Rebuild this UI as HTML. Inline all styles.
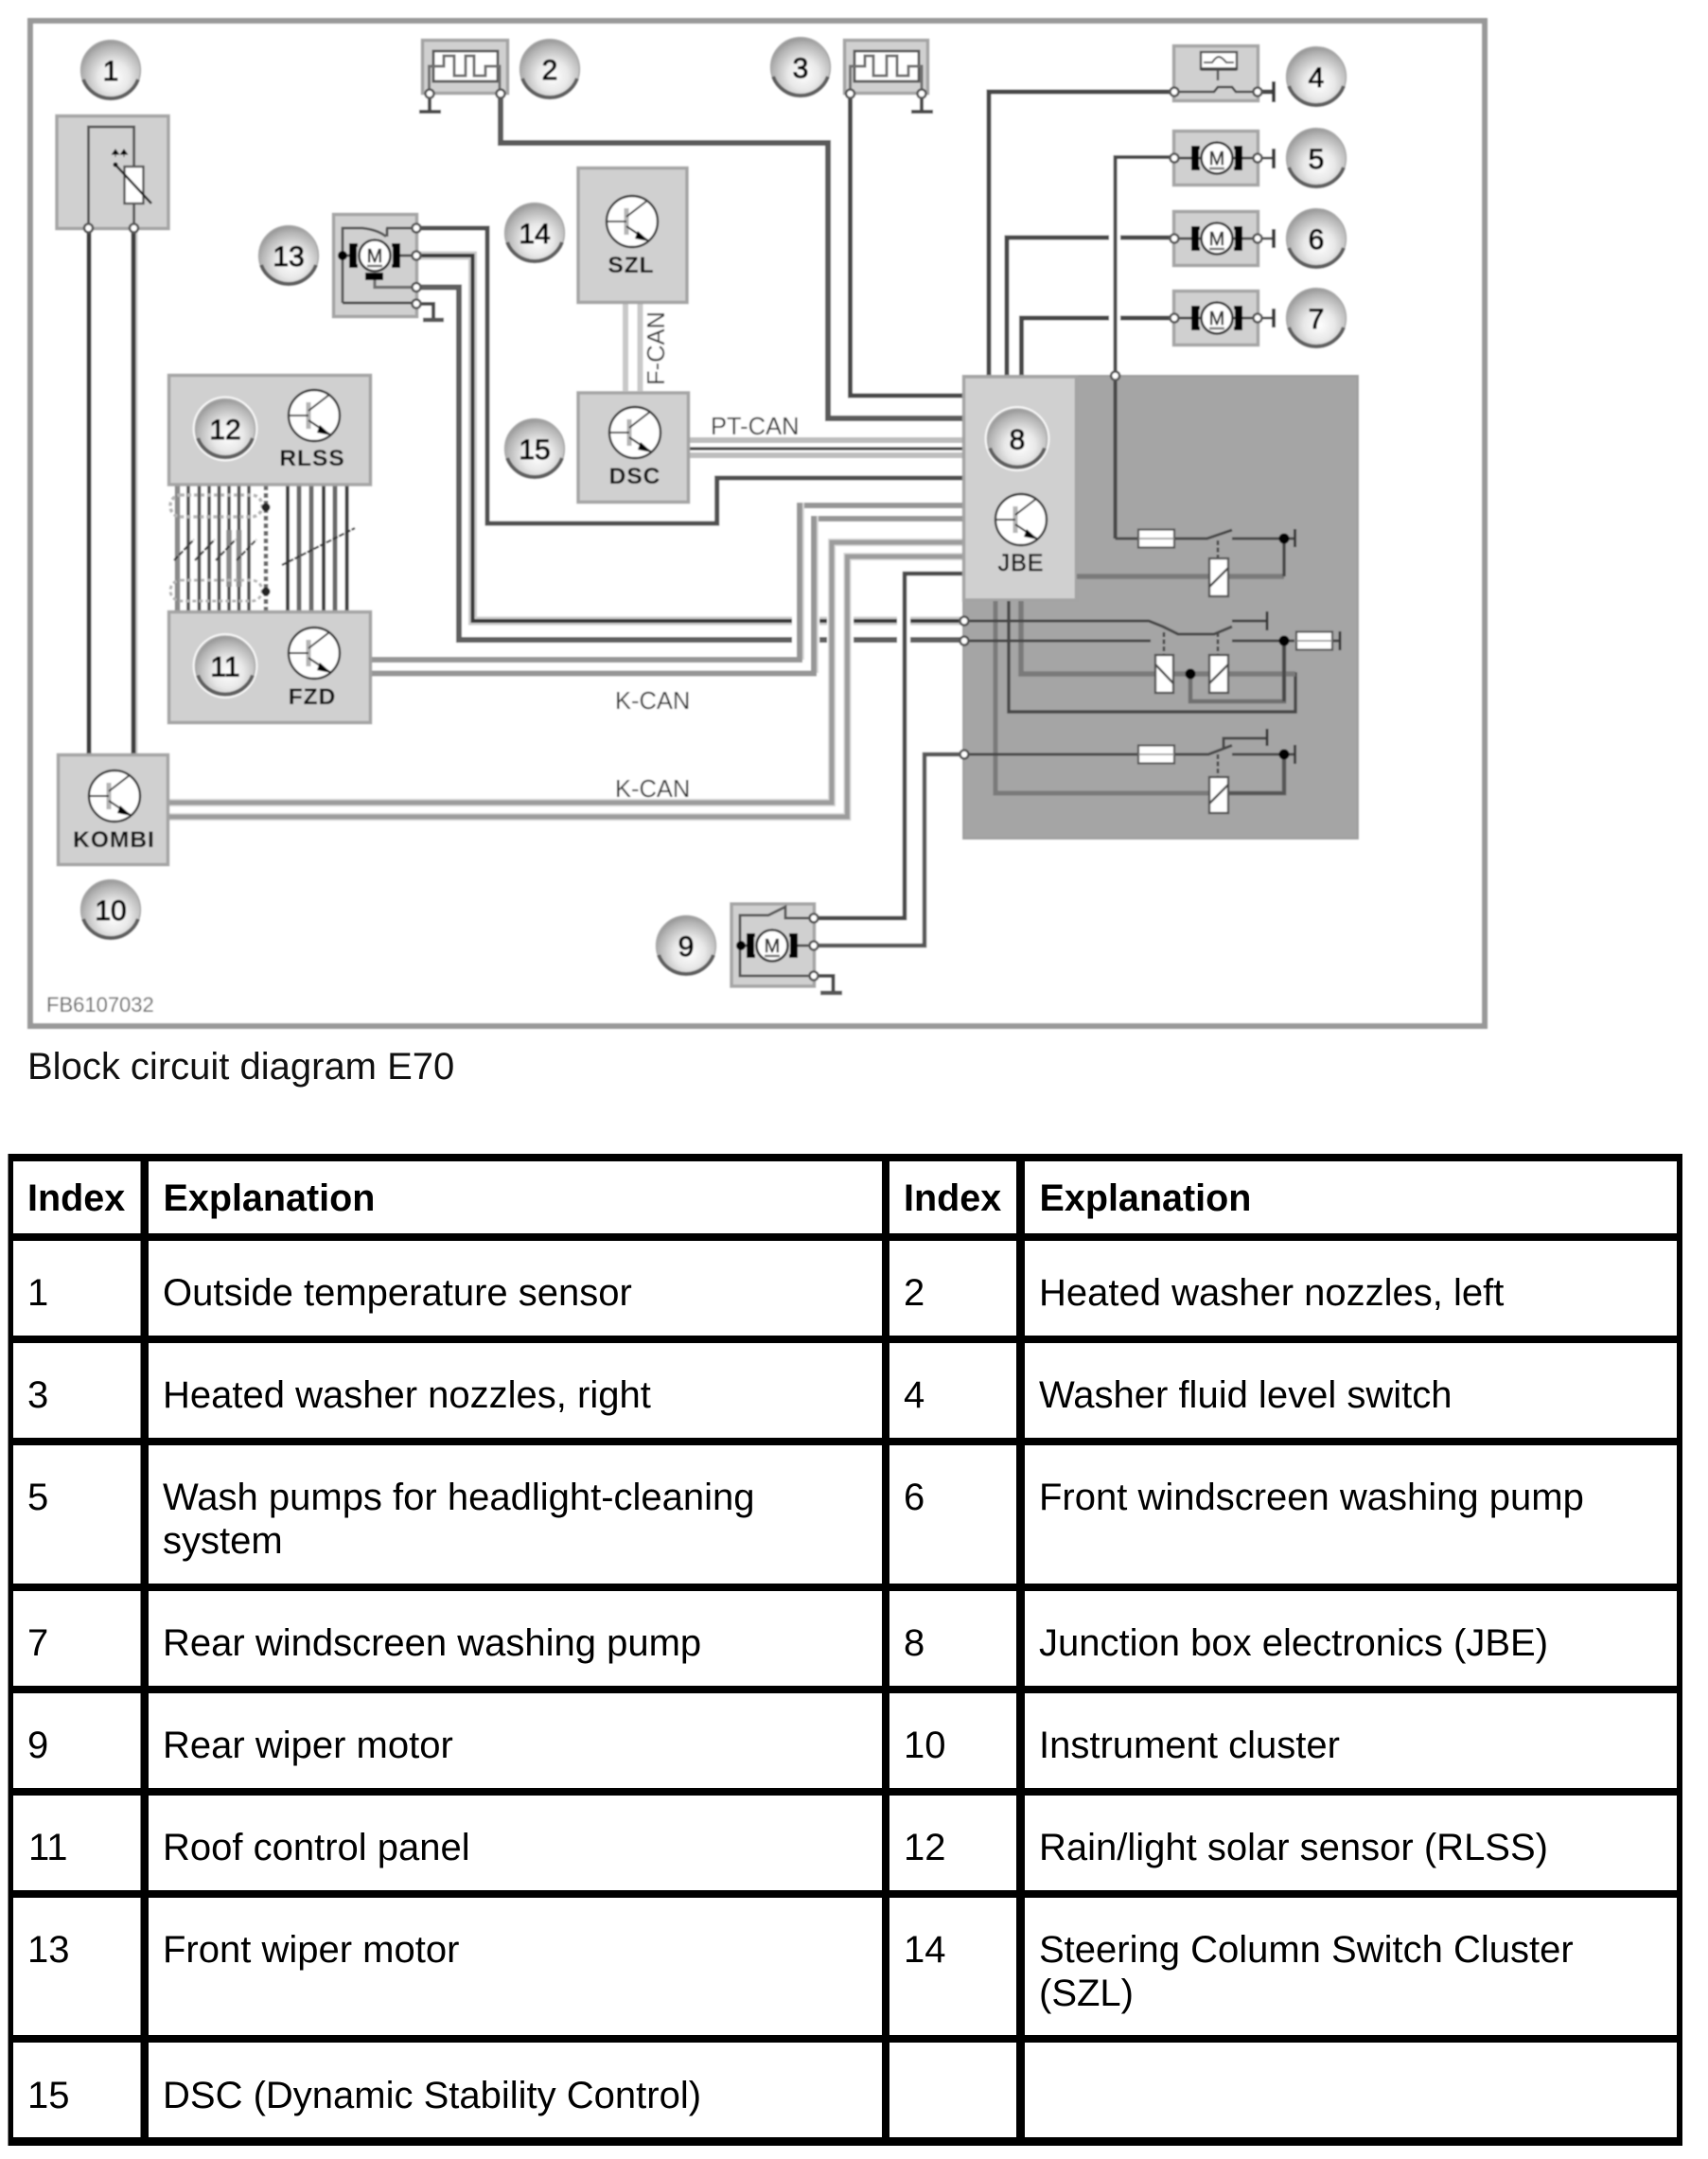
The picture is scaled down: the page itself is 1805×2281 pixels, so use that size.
<!DOCTYPE html>
<html><head><meta charset="utf-8"><title>Block circuit diagram E70</title>
<style>html,body{margin:0;padding:0;background:#fff}svg{display:block}text{font-family:"Liberation Sans",Arial,sans-serif}</style></head>
<body>
<svg xmlns="http://www.w3.org/2000/svg" width="1805" height="2281" viewBox="0 0 1805 2281">
<defs>
<radialGradient id="bg" cx=".55" cy=".62" r=".62"><stop offset="0" stop-color="#fff"/><stop offset=".42" stop-color="#e8e8e8"/><stop offset=".82" stop-color="#b4b4b4"/><stop offset="1" stop-color="#969696"/></radialGradient>
<filter id="soft" filterUnits="userSpaceOnUse" x="0" y="0" width="1805" height="1200"><feGaussianBlur stdDeviation="0.75"/></filter>
<g id="b"><circle r="34.5" fill="#fff" opacity=".8"/><circle r="31.5" fill="url(#bg)" stroke="#aaa" stroke-width="1.5"/><path d="M-29,10A31,31 0 0 0 29,10" fill="none" stroke="#5e5e5e" stroke-width="4"/></g>
<g id="t"><circle r="27" fill="#fff" stroke="#333" stroke-width="2.4"/><path d="M-6,-14V14" stroke="#b4b4b4" stroke-width="5"/><path d="M-27,0H-6M-6,-5L16,-22M-6,5L18,21" stroke="#333" stroke-width="2" fill="none"/><path d="M6,10L18,21L3,18Z" fill="#000"/></g>
<g id="m"><path d="M-18,-11H-25V11H-18M18,-11H25V11H18" fill="none" stroke="#000" stroke-width="4"/><rect x="-24" y="-10" width="5" height="20" fill="#000"/><rect x="19" y="-10" width="5" height="20" fill="#000"/><circle r="16.5" fill="#fff" stroke="#333" stroke-width="2.6"/><path d="M-8,11H8" stroke="#777" stroke-width="2.5"/></g>
<g id="n"><circle r="4.5" fill="#fff" stroke="#555" stroke-width="2.6"/></g>
<g id="fuse"><rect x="-19" y="-9.5" width="38" height="19" fill="#fff" stroke="#555" stroke-width="2.2"/><path d="M-19,0H19" stroke="#888" stroke-width="1.5"/></g>
</defs>

<g filter="url(#soft)">
<!-- frame -->
<rect x="32" y="22" width="1537" height="1062" fill="#fff" stroke="#999" stroke-width="6"/>

<!-- dark JBE box -->
<rect x="1018" y="397" width="417" height="489" fill="#a5a5a5" stroke="#9c9c9c" stroke-width="2"/>

<!-- F-CAN -->
<path d="M661,321V413M676.5,321V413" stroke="#c8c8c8" stroke-width="6" fill="none"/>
<!-- PT-CAN -->
<path d="M729,465H1018M729,481H1018" stroke="#bdbdbd" stroke-width="6" fill="none"/>
<path d="M729,474H1018" stroke="#3a3a3a" stroke-width="3.2" fill="none"/>

<!-- Blocks 1 & KOMBI link -->
<path d="M94,241V797" stroke="#3e3e3e" stroke-width="5" fill="none"/>
<path d="M143,241V797" stroke="#ccc" stroke-width="5" fill="none"/>
<path d="M141,241V797" stroke="#3e3e3e" stroke-width="5" fill="none"/>

<!-- wires 2 & 3 -->
<path d="M529,99V151H875V442H1018" stroke="#5a5a5a" stroke-width="6" fill="none"/>
<path d="M898.5,99V418H1018" stroke="#474747" stroke-width="5" fill="none"/>

<!-- wires to 4,5,6,7 -->
<path d="M1045,396V97H1241" stroke="#474747" stroke-width="5" fill="none"/>
<path d="M1178.6,569V166H1241" stroke="#474747" stroke-width="4" fill="none"/>
<path d="M1064,396V251H1172M1184,251H1241" stroke="#474747" stroke-width="5" fill="none"/>
<path d="M1079.5,396V336H1172M1184,336H1241" stroke="#474747" stroke-width="5" fill="none"/>

<!-- wires from 13 -->
<path d="M440,241H515V553H757.7V505H1018" stroke="#505050" stroke-width="5" fill="none"/>
<path d="M440,270H499.5V656H837M866,656H874M902,656H948M962,656H1018" stroke="#ccc" stroke-width="9" fill="none"/>
<path d="M440,270H499.5V656H837M866,656H874M902,656H948M962,656H1018" stroke="#383838" stroke-width="4" fill="none"/>
<path d="M440,303.5H485V676H837M866,676H874M902,676H948M962,676H1018" stroke="#5f5f5f" stroke-width="6" fill="none"/>
<path d="M440,321H458V337.5" stroke="#474747" stroke-width="4" fill="none"/>
<path d="M447,338H469" stroke="#555" stroke-width="4.5" fill="none"/>

<!-- FZD wires -->
<path d="M393,697H845V534H1018" stroke="#969696" stroke-width="6" fill="none"/>
<path d="M393,711.5H860V548H1018" stroke="#969696" stroke-width="6" fill="none"/>
<path d="M849,697V531M864,711V545" stroke="#d8d8d8" stroke-width="2" fill="none"/>
<!-- KOMBI wires -->
<path d="M179,848H879V573H1018" stroke="#d4d4d4" stroke-width="8" fill="none"/>
<path d="M179,848H879V573H1018" stroke="#9c9c9c" stroke-width="5" fill="none"/>
<path d="M179,863H895.4V588H1018" stroke="#d4d4d4" stroke-width="8" fill="none"/>
<path d="M179,863H895.4V588H1018" stroke="#9c9c9c" stroke-width="5" fill="none"/>

<!-- wires for 9 -->
<path d="M1018,606H956V970H860" stroke="#474747" stroke-width="4.5" fill="none"/>
<path d="M1018,797H977V999H860" stroke="#555" stroke-width="4.5" fill="none"/>

<!-- RLSS-FZD harness -->
<path d="M187.5,513V645M199,513V645M210.5,513V645M221,513V645M231.5,513V645M242,513V645M252.5,513V645M263,513V645" stroke="#505050" stroke-width="3.6" fill="none"/>
<path d="M187.5,513V645M242,560V620M252.5,560V620" stroke="#8a8a8a" stroke-width="5.5" fill="none"/>
<path d="M281,513V645" stroke="#666" stroke-width="4.5" stroke-dasharray="5 3" fill="none"/>
<path d="M304,513V645M342,513V645M366.6,513V645" stroke="#3a3a3a" stroke-width="4" fill="none"/>
<path d="M316,513V645M329,513V645M354,513V645" stroke="#6a6a6a" stroke-width="5" fill="none"/>
<rect x="180" y="523" width="97" height="23" rx="11" fill="none" stroke="#b4b4b4" stroke-width="3.5" stroke-dasharray="4 3"/>
<rect x="180" y="613" width="97" height="22" rx="11" fill="none" stroke="#b4b4b4" stroke-width="3" stroke-dasharray="4 3"/>
<circle cx="281" cy="536" r="4.5" fill="#222"/><circle cx="281" cy="625" r="4.5" fill="#222"/>
<path d="M184,592L205,570M206,592L227,570M228,592L249,570M250,592L271,570M298,597L375,558" stroke="#333" stroke-width="2.2" stroke-dasharray="6 1.5" fill="none"/>

<!-- Component blocks -->
<g fill="#d0d0d0" stroke="#a4a4a4" stroke-width="3.5">
<rect x="60" y="122.5" width="118" height="119"/>
<rect x="446.5" y="42.5" width="90" height="56"/>
<rect x="892.5" y="42.5" width="88" height="56"/>
<rect x="1240.5" y="48.5" width="89" height="58"/>
<rect x="1240.5" y="138.5" width="89" height="57"/>
<rect x="1240.5" y="223.5" width="89" height="57"/>
<rect x="1240.5" y="307.5" width="89" height="57"/>
<rect x="352.5" y="226.5" width="88" height="108"/>
<rect x="611" y="177.5" width="115" height="142"/>
<rect x="611" y="415" width="116.5" height="115.5"/>
<rect x="178.5" y="396.5" width="213" height="115.5"/>
<rect x="178.5" y="646.5" width="213" height="117"/>
<rect x="61.5" y="797.5" width="116" height="116"/>
<rect x="773" y="955" width="87.5" height="87"/>
<rect x="1018.5" y="398" width="119" height="236"/>
</g>

<!-- Block 1 internals -->
<path d="M93.5,241V134H141.6V241" fill="none" stroke="#555" stroke-width="2.8"/>
<rect x="131.5" y="176" width="20" height="39" fill="#fff" stroke="#555" stroke-width="2.4"/>
<path d="M121,173L160,215" stroke="#222" stroke-width="2.6" fill="none"/>
<circle cx="122" cy="174" r="2.5" fill="#111"/>
<path d="M122,158l3.5,5h-7zM131,158l3.5,5h-7zM122,166v-4M131,166v-4" fill="#000" stroke="#000"/>

<!-- Block 2 -->
<rect x="458" y="54" width="68" height="32" fill="#fff" stroke="#555" stroke-width="2.8"/>
<path d="M453.5,99V70H469V59H480V80H492V59H501V80H513V70H528V99" fill="none" stroke="#6e6e6e" stroke-width="3"/>
<path d="M454,99V117M443,118H466" stroke="#474747" stroke-width="4" fill="none"/>
<!-- Block 3 -->
<rect x="903" y="54" width="68" height="32" fill="#fff" stroke="#555" stroke-width="2.8"/>
<path d="M898.5,99V70H914V59H923V80H937V59H948V80H960V70H974V99" fill="none" stroke="#6e6e6e" stroke-width="3"/>
<path d="M974,99V117M963,118H986" stroke="#474747" stroke-width="4" fill="none"/>

<!-- Block 4 -->
<rect x="1269" y="55" width="38" height="18" fill="#fff" stroke="#555" stroke-width="2.4"/>
<path d="M1269,73H1307" stroke="#444" stroke-width="3.5"/>
<path d="M1272,66H1281Q1285,60 1288,60T1296,66H1304" fill="none" stroke="#444" stroke-width="2"/>
<path d="M1287,74V85" stroke="#555" stroke-width="2.5"/>
<path d="M1241,97H1283L1287,92H1302L1306,97H1329" fill="none" stroke="#474747" stroke-width="2.6"/>
<path d="M1329,97H1346" stroke="#474747" stroke-width="5"/>
<path d="M1346,86V108" stroke="#383838" stroke-width="4"/>
<!-- Blocks 5/6/7 -->
<path d="M1241,167H1346M1241,252H1346M1241,336H1346" stroke="#474747" stroke-width="2.8"/>
<path d="M1346,157V178M1346,242V262M1346,326V346" stroke="#383838" stroke-width="4"/>
<use href="#m" x="1286" y="167"/><use href="#m" x="1286" y="252"/><use href="#m" x="1286" y="336"/>
<g font-size="20" text-anchor="middle" fill="#333" stroke="#333" stroke-width=".6">
<text x="1286" y="174">M</text>
<text x="1286" y="259">M</text>
<text x="1286" y="343">M</text>
</g>

<!-- Block 13 internals -->
<path d="M440,241H408M362,320V241H383Q400,243 408,250M409,241V250" fill="none" stroke="#555" stroke-width="2.8"/>
<path d="M362,320H440" stroke="#474747" stroke-width="2.8"/>
<path d="M396,292V303.5H440" fill="none" stroke="#6e6e6e" stroke-width="3.2"/>
<path d="M362,270H375M416,270H440" stroke="#474747" stroke-width="2.8"/>
<use href="#m" x="396" y="270"/>
<rect x="386" y="288" width="19" height="8" fill="#000"/>
<circle cx="362" cy="270" r="5" fill="#000"/>
<text x="396" y="277" font-size="20" text-anchor="middle" fill="#333" stroke="#333" stroke-width=".6">M</text>

<!-- Block 9 internals -->
<path d="M860,970H830V958L812,967H782V1031H860" fill="none" stroke="#555" stroke-width="2.8"/>
<path d="M782,999H792M840,999H860" stroke="#474747" stroke-width="2.8"/>
<use href="#m" x="816" y="999"/>
<circle cx="783" cy="999" r="5" fill="#000"/>
<text x="816" y="1006" font-size="20" text-anchor="middle" fill="#333" stroke="#333" stroke-width=".6">M</text>
<path d="M860,1031H880.5V1048" fill="none" stroke="#474747" stroke-width="4"/>
<path d="M867,1049H890" stroke="#555" stroke-width="4.5"/>

<!-- JBE internals: trunk wires -->
<path d="M1052,635V838H1278M1298,838H1357V797" fill="none" stroke="#7a7a7a" stroke-width="5"/>
<path d="M1298,838H1357V797" fill="none" stroke="#555" stroke-width="3.4"/>
<path d="M1066,635V752H1369V712H1298" fill="none" stroke="#474747" stroke-width="3.4"/>
<path d="M1079,635V712H1221M1240,712H1278M1298,712H1369" fill="none" stroke="#7a7a7a" stroke-width="5.5"/>
<path d="M1138,609H1278M1298,609H1357" fill="none" stroke="#7a7a7a" stroke-width="5.5"/>
<path d="M1357,609V569" stroke="#474747" stroke-width="3.4"/>
<path d="M1258,712V741H1357V677" fill="none" stroke="#707070" stroke-width="4.5"/>
<path d="M1357,741V677" stroke="#474747" stroke-width="3.4"/>

<!-- relay 1 row -->
<path d="M1178.6,569H1203M1241,569H1275.5L1302,560M1302,569H1357M1357,569H1368.5" fill="none" stroke="#474747" stroke-width="3"/>
<path d="M1368.5,559V578" stroke="#383838" stroke-width="3"/>
<circle cx="1357" cy="569" r="5.5" fill="#000"/>
<use href="#fuse" x="1222" y="569"/>
<path d="M1287,571V590" stroke="#474747" stroke-width="2.6" stroke-dasharray="5 2.5"/>
<rect x="1278" y="590" width="20" height="40" fill="#fff" stroke="#555" stroke-width="2.4"/>
<path d="M1278,620L1298,600" stroke="#444" stroke-width="2.4"/>

<!-- relay 2 row -->
<path d="M1019,656H1214L1229,662L1245,670H1283L1302,662M1302,656H1339" fill="none" stroke="#474747" stroke-width="3"/>
<path d="M1339,646V666" stroke="#383838" stroke-width="2.8"/>
<path d="M1019,677H1216M1302,677H1368" fill="none" stroke="#474747" stroke-width="3"/>
<path d="M1409,677H1416" stroke="#474747" stroke-width="3"/>
<path d="M1416,667V687" stroke="#383838" stroke-width="2.8"/>
<circle cx="1357" cy="677" r="5.5" fill="#000"/>
<use href="#fuse" x="1389" y="677"/>
<path d="M1230,668V692M1287,668V692" stroke="#474747" stroke-width="2.6" stroke-dasharray="5 2.5"/>
<rect x="1221" y="692" width="19" height="40" fill="#fff" stroke="#555" stroke-width="2.4"/>
<path d="M1221,702L1240,722" stroke="#444" stroke-width="2.4"/>
<rect x="1278" y="692" width="20" height="40" fill="#fff" stroke="#555" stroke-width="2.4"/>
<path d="M1278,722L1298,702" stroke="#444" stroke-width="2.4"/>
<circle cx="1258" cy="712" r="5.5" fill="#000"/>

<!-- relay 3 row -->
<path d="M1019,797H1203M1241,797H1277L1302,787.5M1293,790V780H1339M1302,797H1368.5" fill="none" stroke="#474747" stroke-width="3"/>
<path d="M1339,770V788M1368.5,787V807" stroke="#383838" stroke-width="2.8"/>
<circle cx="1357" cy="797" r="5.5" fill="#000"/>
<use href="#fuse" x="1222" y="797"/>
<path d="M1287,797V821" stroke="#474747" stroke-width="2.6" stroke-dasharray="5 2.5"/>
<rect x="1278" y="821" width="20" height="38" fill="#fff" stroke="#555" stroke-width="2.4"/>
<path d="M1278,849L1298,829" stroke="#444" stroke-width="2.4"/>

<!-- Nodes -->
<use href="#n" x="93.5" y="241"/><use href="#n" x="141.5" y="241"/>
<use href="#n" x="454" y="99"/><use href="#n" x="529" y="99"/>
<use href="#n" x="898.5" y="99"/><use href="#n" x="974" y="99"/>
<use href="#n" x="1241" y="97"/><use href="#n" x="1329" y="97"/>
<use href="#n" x="1241" y="167"/><use href="#n" x="1329" y="167"/>
<use href="#n" x="1241" y="252"/><use href="#n" x="1329" y="252"/>
<use href="#n" x="1241" y="336"/><use href="#n" x="1329" y="336"/>
<use href="#n" x="440" y="241"/><use href="#n" x="440" y="270"/><use href="#n" x="440" y="303.5"/><use href="#n" x="440" y="321"/>
<use href="#n" x="860" y="970"/><use href="#n" x="860" y="999"/><use href="#n" x="860" y="1031"/>
<use href="#n" x="1019" y="656"/><use href="#n" x="1019" y="677"/><use href="#n" x="1019" y="797"/>
<use href="#n" x="1178.6" y="397"/>

<!-- Transistors -->
<use href="#t" x="668" y="234"/><use href="#t" x="671" y="457"/>
<use href="#t" x="332" y="439"/><use href="#t" x="332" y="690"/>
<use href="#t" x="121" y="841"/><use href="#t" x="1079" y="549"/>
<g font-size="24.5" font-weight="bold" text-anchor="middle" fill="#111" letter-spacing="1">
<text x="667" y="288">SZL</text>
<text x="671" y="511">DSC</text>
<text x="330" y="492">RLSS</text>
<text x="330" y="744">FZD</text>
<text x="120.5" y="895">KOMBI</text>
</g>
<text x="1079" y="603" font-size="25" text-anchor="middle" fill="#111" stroke="#111" stroke-width=".5" letter-spacing="1">JBE</text>

<!-- Badges -->
<use href="#b" x="117" y="74"/><use href="#b" x="581" y="73"/><use href="#b" x="846" y="71"/>
<use href="#b" x="1391" y="81"/><use href="#b" x="1391" y="167"/><use href="#b" x="1391" y="252"/><use href="#b" x="1391" y="336"/>
<use href="#b" x="1075" y="463.5"/><use href="#b" x="725" y="999"/><use href="#b" x="117" y="961"/>
<use href="#b" x="238" y="703.5"/><use href="#b" x="238" y="453"/>
<use href="#b" x="305" y="270"/><use href="#b" x="565" y="246"/><use href="#b" x="565" y="474"/>
<g font-size="30" text-anchor="middle" fill="#000" stroke="#000" stroke-width="1">
<text x="117" y="85">1</text><text x="581" y="84">2</text><text x="846" y="82">3</text>
<text x="1391" y="92">4</text><text x="1391" y="178">5</text><text x="1391" y="263">6</text><text x="1391" y="347">7</text>
<text x="1075" y="474.5">8</text><text x="725" y="1010">9</text><text x="117" y="972">10</text>
<text x="238" y="714.5">11</text><text x="238" y="464">12</text>
<text x="305" y="281">13</text><text x="565" y="257">14</text><text x="565" y="485">15</text>
</g>

<!-- Bus labels -->
<g font-size="25.5" fill="#333">
<text x="751" y="459">PT-CAN</text>
<text x="650" y="749">K-CAN</text>
<text x="650" y="842">K-CAN</text>
<text transform="translate(702,407) rotate(-90)">F-CAN</text>
</g>
<text x="49" y="1069" font-size="22" fill="#666">FB6107032</text>
</g>

<!-- Caption -->
<text x="29" y="1140" font-size="40" fill="#111">Block circuit diagram E70</text>

<!-- Table grid -->
<g fill="#000">
<rect x="8.5" y="1219" width="5.5" height="1048"/>
<rect x="148.5" y="1219" width="8.5" height="1048"/>
<rect x="932" y="1219" width="8" height="1048"/>
<rect x="1074" y="1219" width="9" height="1048"/>
<rect x="1772" y="1219" width="6" height="1048"/>
<rect x="8.5" y="1219" width="1769.5" height="8"/>
<rect x="8.5" y="1303" width="1769.5" height="8"/>
<rect x="8.5" y="1411" width="1769.5" height="8"/>
<rect x="8.5" y="1519" width="1769.5" height="8"/>
<rect x="8.5" y="1673" width="1769.5" height="8"/>
<rect x="8.5" y="1781" width="1769.5" height="8"/>
<rect x="8.5" y="1889" width="1769.5" height="8"/>
<rect x="8.5" y="1997" width="1769.5" height="8"/>
<rect x="8.5" y="2150" width="1769.5" height="8"/>
<rect x="8.5" y="2258" width="1769.5" height="9"/>
</g>
<g font-size="39.5" font-weight="bold" fill="#000">
<text x="29" y="1279">Index</text><text x="172.5" y="1279">Explanation</text>
<text x="955" y="1279">Index</text><text x="1098.5" y="1279">Explanation</text>
</g>
<g font-size="40" fill="#000">
<text x="29" y="1379">1</text><text x="172" y="1379">Outside temperature sensor</text><text x="955" y="1379">2</text><text x="1098" y="1379">Heated washer nozzles, left</text>
<text x="29" y="1487">3</text><text x="172" y="1487">Heated washer nozzles, right</text><text x="955" y="1487">4</text><text x="1098" y="1487">Washer fluid level switch</text>
<text x="29" y="1595">5</text><text x="172" y="1595">Wash pumps for headlight-cleaning</text><text x="172" y="1641">system</text><text x="955" y="1595">6</text><text x="1098" y="1595">Front windscreen washing pump</text>
<text x="29" y="1749">7</text><text x="172" y="1749">Rear windscreen washing pump</text><text x="955" y="1749">8</text><text x="1098" y="1749">Junction box electronics (JBE)</text>
<text x="29" y="1857">9</text><text x="172" y="1857">Rear wiper motor</text><text x="955" y="1857">10</text><text x="1098" y="1857">Instrument cluster</text>
<text x="30" y="1965">11</text><text x="172" y="1965">Roof control panel</text><text x="955" y="1965">12</text><text x="1098" y="1965">Rain/light solar sensor (RLSS)</text>
<text x="29" y="2073">13</text><text x="172" y="2073">Front wiper motor</text><text x="955" y="2073">14</text><text x="1098" y="2073">Steering Column Switch Cluster</text><text x="1098" y="2119">(SZL)</text>
<text x="29" y="2227">15</text><text x="172" y="2227">DSC (Dynamic Stability Control)</text>
</g>
</svg>
</body></html>
